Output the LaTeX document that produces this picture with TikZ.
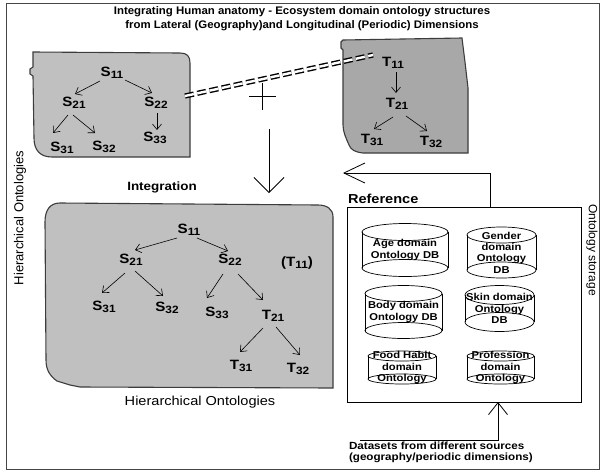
\documentclass[tikz,border=0pt]{standalone}
\usepackage{fontspec}
\setmainfont{Liberation Sans}
\usetikzlibrary{arrows.meta,calc}
\definecolor{blobS}{RGB}{192,192,192}
\definecolor{blobT}{RGB}{168,168,168}
\definecolor{blobedge}{RGB}{60,60,60}
\definecolor{framec}{RGB}{70,70,70}
% ontology term with lowered index
\newcommand\ont[2]{#1\raisebox{-2.2pt}{\fontsize{10.6}{11}\selectfont #2}}
% database cylinder: name, cx, cy, width, body height, ellipse ry, text
\newcommand\dbcyl[7]{%
  \node[dbbody, minimum width=#4pt, minimum height=#5pt] (#1) at (#2,#3) {};
  \node[dbtxt] (#1-t) at (#1) {#7};
  \draw[dbline] (#1.north west) -- (#1.south west);
  \draw[dbline] (#1.north east) -- (#1.south east);
  \draw[dbline] (#1.north) ellipse [x radius=#4pt/2, y radius=#6pt];
  \draw[dbline] (#1.south) ellipse [x radius=#4pt/2, y radius=#6pt];
}
\begin{document}
\begin{tikzpicture}[x=1pt,y=-1pt,
  every node/.style={inner sep=0pt, outer sep=0pt},
  stretch/.style={xscale=1.12},
  lbl/.style={stretch, font=\fontsize{13.5}{14}\selectfont\bfseries},
  titletxt/.style={xscale=1.04, align=center, font=\fontsize{11}{14}\selectfont\bfseries},
  headtxt/.style={stretch, font=\fontsize{12.5}{13}\selectfont\bfseries},
  plaintxt/.style={font=\fontsize{13}{14}\selectfont},
  dbtxt/.style={stretch, align=center, font=\fontsize{10}{11.4}\selectfont\bfseries},
  dbbody/.style={draw=none},
  dbline/.style={line width=0.7pt, black},
  blob/.style={line width=1.1pt, draw=blobedge},
  tarrow/.style={-{Straight Barb[length=5.5pt,width=9pt]}, line width=0.6pt},
  bigarrow/.style={line width=0.8pt},
  dbl/.style={double, double distance=2.4pt, line width=1.4pt, dash pattern=on 9pt off 3.5pt},
]
\useasboundingbox (0,0) rectangle (602,472);
\fill[white] (0,0) rectangle (602,472);

% outer frame
\draw[framec, line width=0.8pt] (6,3) rectangle (599,469);

% title
\node[titletxt] (title) at (302,19) {Integrating Human anatomy - Ecosystem domain ontology structures\\from Lateral (Geography)and Longitudinal (Periodic) Dimensions};

% ---- lateral (geography) hierarchy
\draw[blob, fill=blobS] (33,52) -- (180,53) .. controls (187,53) and (190,56) .. (190,63)
  -- (190,157) -- (52,157) .. controls (40,157) and (34,150) .. (34,138)
  -- (33,76) -- (30,74) -- (30,69) -- (33,67) -- cycle;
\node[lbl] (s11) at (112,73) {\ont{S}{11}};
\node[lbl] (s21) at (74,103) {\ont{S}{21}};
\node[lbl] (s22) at (156,103) {\ont{S}{22}};
\node[lbl] (s31) at (62,148) {\ont{S}{31}};
\node[lbl] (s32) at (104,147) {\ont{S}{32}};
\node[lbl] (s33) at (155,138) {\ont{S}{33}};
\draw[tarrow] ($(s11)+(-12,8)$) -- ($(s21)+(1,-9)$);
\draw[tarrow] ($(s11)+(13,7)$) -- ($(s22)+(-4,-10)$);
\draw[tarrow] ($(s21)+(-6,12)$) -- ($(s31)+(-9,-15)$);
\draw[tarrow] ($(s21)+(-1,12)$) -- ($(s32)+(-9,-14)$);
\draw[tarrow] ($(s22)+(1,10)$) -- ($(s33)+(2,-8)$);

% ---- longitudinal (periodic) hierarchy
\draw[blob, fill=blobT] (343,40) -- (462,38) -- (465,62) -- (468,88) -- (468,153)
  -- (363,153) .. controls (355,152) and (351,150) .. (349,145)
  .. controls (346,138) and (343,132) .. (343,125) -- (343,50) -- (341,48) -- (341,42) -- cycle;
\node[lbl] (t11) at (393,63) {\ont{T}{11}};
\node[lbl] (t21) at (397,104) {\ont{T}{21}};
\node[lbl] (t31) at (372,140) {\ont{T}{31}};
\node[lbl] (t32) at (431,142) {\ont{T}{32}};
\draw[tarrow] ($(t11)+(3,9)$) -- ($(t21)+(-1,-11)$);
\draw[tarrow] ($(t21)+(-4,13)$) -- ($(t31)+(2,-11)$);
\draw[tarrow] ($(t21)+(9,12)$) -- ($(t32)+(-4,-11)$);

% link between the two hierarchies and the cross mark
\coordinate (dashA) at (185,96);
\coordinate (dashB) at (373,55);
\draw[dbl] (dashA) -- (dashB);
\coordinate (plusL) at (249,96);
\coordinate (plusR) at (276,96);
\coordinate (plusT) at (262,83);
\coordinate (plusB) at (262,110);
\draw[line width=1pt] (plusL) -- (plusR);
\draw[line width=1pt] (plusT) -- (plusB);

% integration arrow
\coordinate (intA) at (269,129);
\coordinate (intB) at (269,193);
\draw[bigarrow, -{Straight Barb[length=15pt,width=30pt]}] (intA) -- (intB);

% ---- integrated hierarchy
\node[headtxt, font=\fontsize{12}{13}\selectfont\bfseries] (integ) at (162,187) {Integration};
\draw[blob, fill=blobS] (60,203) -- (318,205) .. controls (327,205) and (333,209) .. (333,217)
  -- (333,388) -- (80,387) -- (70,385) -- (57,381) .. controls (50,376) and (46,370) .. (46,360)
  -- (45,222) .. controls (45,210) and (50,203) .. (60,203) -- cycle;
\node[lbl] (i-s11) at (189,230) {\ont{S}{11}};
\node[lbl] (i-s21) at (131,260) {\ont{S}{21}};
\node[lbl] (i-s22) at (230,260) {\ont{S}{22}};
\node[lbl] (i-t11) at (297,263) {(\ont{T}{11})};
\node[lbl] (i-s31) at (104,307) {\ont{S}{31}};
\node[lbl] (i-s32) at (167,308) {\ont{S}{32}};
\node[lbl] (i-s33) at (217,313) {\ont{S}{33}};
\node[lbl] (i-t21) at (273,316) {\ont{T}{21}};
\node[lbl] (i-t31) at (241,366) {\ont{T}{31}};
\node[lbl] (i-t32) at (298,369) {\ont{T}{32}};
\draw[tarrow] ($(i-s11)+(-12,8)$) -- ($(i-s21)+(4,-10)$);
\draw[tarrow] ($(i-s11)+(8,8)$) -- ($(i-s22)+(-2,-9)$);
\draw[tarrow] ($(i-s21)+(-6,13)$) -- ($(i-s31)+(-2,-14)$);
\draw[tarrow] ($(i-s21)+(4,11)$) -- ($(i-s32)+(-4,-12)$);
\draw[tarrow] ($(i-s22)+(-7,14)$) -- ($(i-s33)+(-10,-15)$);
\draw[tarrow] ($(i-s22)+(8,14)$) -- ($(i-t21)+(-10,-16)$);
\draw[tarrow] ($(i-t21)+(-10,12)$) -- ($(i-t31)+(-1,-14)$);
\draw[tarrow] ($(i-t21)+(3,11)$) -- ($(i-t32)+(2,-14)$);
\node[plaintxt, stretch] (hier) at (200,402) {Hierarchical Ontologies};
\node[plaintxt, rotate=90] (hierv) at (20,218) {Hierarchical Ontologies};

% ---- ontology storage
\node[headtxt, font=\fontsize{13}{14}\selectfont\bfseries, anchor=west] (reflbl) at (348,199) {Reference};
\node[draw, line width=0.8pt, minimum width=234pt, minimum height=195pt] (ref) at (464,304.5) {};
\node[font=\fontsize{12}{13}\selectfont, rotate=-90] (store) at (592,250) {Ontology storage};
\dbcyl{age}{405}{250}{86}{36}{8.5}{Age domain\\Ontology DB}
\dbcyl{gender}{501.5}{252.5}{69}{35}{8}{Gender\\domain\\Ontology\\DB}
\dbcyl{body}{403.5}{312}{77}{37}{8}{Body domain\\Ontology DB}
\dbcyl{skin}{499.5}{308.5}{69}{27}{9.5}{Skin domain\\Ontology\\DB}
\dbcyl{food}{402}{367.5}{68}{23}{5}{Food Habit\\domain\\Ontology}
\dbcyl{prof}{500.5}{367.5}{67}{23}{5}{Profession\\domain\\Ontology}

% reference feedback to the hierarchies
\coordinate (fbk) at (490,173);
\coordinate (fbtip) at (343,173);
\draw[bigarrow, -{Straight Barb[length=21pt,width=20pt]}] (fbk |- ref.north) -- (fbk) -- (fbtip);

% incoming datasets
\node[stretch, align=left, anchor=west, font=\fontsize{10.4}{11}\selectfont\bfseries] (data) at (349,452.5) {Datasets from different sources\\(geography/periodic dimensions)};
\coordinate (dsA) at (360,440);
\coordinate (dsB) at (498,440);
\draw[bigarrow, -{Straight Barb[length=12pt,width=19pt]}] (dsA) -- (dsB) -- (dsB |- ref.south);
\end{tikzpicture}
\end{document}
